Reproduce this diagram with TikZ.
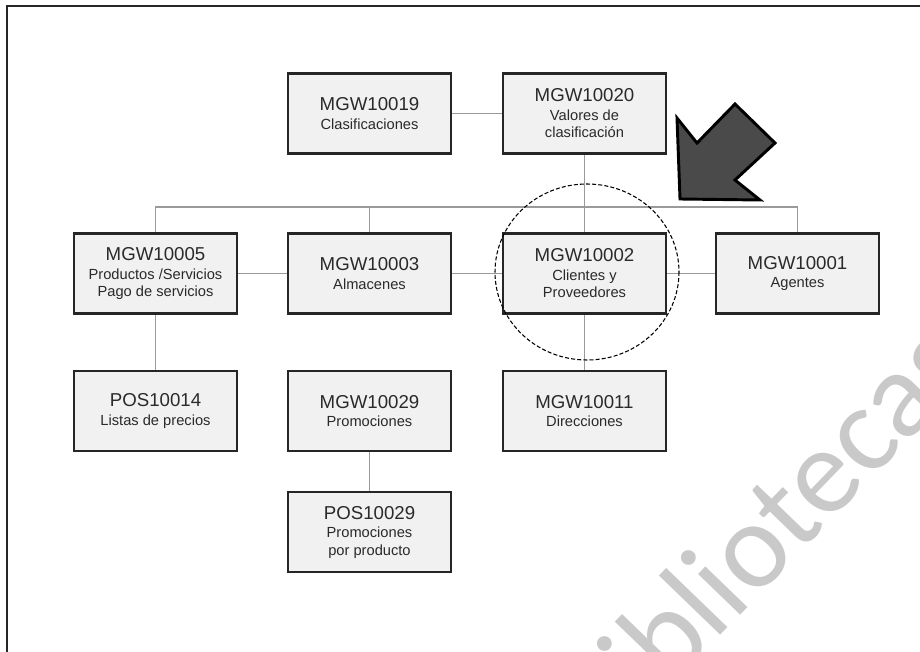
\documentclass[tikz,border=0pt]{standalone}
\usepackage{fontspec}
\setmainfont{Liberation Sans}
\newfontfamily\markfont{Carlito}
\begin{document}
\begin{tikzpicture}[x=0.75pt,y=-0.75pt,
  tbl/.style={draw=black!85, line width=1.2pt, fill=boxfill,
    minimum width=121.5pt, minimum height=59.25pt, inner sep=0pt,
    align=center, text=txt, font=\fontsize{11}{13}\selectfont},
  conn/.style={draw=linegray, line width=1.1pt}]
\definecolor{boxfill}{HTML}{F0F1F0}
\definecolor{txt}{HTML}{2A2A2A}
\definecolor{linegray}{HTML}{9A9A9A}
\definecolor{arrowfill}{HTML}{4A4A4A}
\definecolor{markgray}{HTML}{C9C9C9}
\newcommand{\tcode}[1]{{\fontsize{14}{16}\selectfont #1}}
\useasboundingbox (0,0) rectangle (920,652);
\fill[white] (0,0) rectangle (920,652);

% watermark
\node[text=markgray, rotate=46, font=\markfont\fontsize{92}{92}\selectfont,
  inner sep=0pt] (mark) at (762,532) {bibliotecas};

% outer frame (left and top edges)
\draw[black!85, line width=1.5pt] (7,652) -- (7,6) -- (920,6);

% tables
\node[tbl] (t19) at (369.5,113.5) {\tcode{MGW10019}\\[1pt]Clasificaciones};
\node[tbl] (t20) at (584.5,113.5) {\tcode{MGW10020}\\[1pt]Valores de\\clasificación};
\node[tbl] (t05) at (155.5,273.5) {\tcode{MGW10005}\\[1pt]Productos /Servicios\\Pago de servicios};
\node[tbl] (t03) at (369.5,273.5) {\tcode{MGW10003}\\[1pt]Almacenes};
\node[tbl] (t02) at (584.5,273.5) {\tcode{MGW10002}\\[1pt]Clientes y\\Proveedores};
\node[tbl] (t01) at (797.5,273.5) {\tcode{MGW10001}\\[1pt]Agentes};
\node[tbl] (p14) at (155.5,411) {\tcode{POS10014}\\[1pt]Listas de precios};
\node[tbl] (t29) at (369.5,411) {\tcode{MGW10029}\\[1pt]Promociones};
\node[tbl] (t11) at (584.5,411) {\tcode{MGW10011}\\[1pt]Direcciones};
\node[tbl] (p29) at (369.5,532) {\tcode{POS10029}\\[1pt]Promociones\\por producto};

% connectors
\coordinate (bus) at (0,207);
\draw[conn] (t19) -- (t20);
\draw[conn] (t20) -- (t02);
\draw[conn] (t05.north) -- (t05.north |- bus) -- (t01.north |- bus) -- (t01.north);
\draw[conn] (t03.north) -- (t03.north |- bus);
\draw[conn] (t05) -- (t03);
\draw[conn] (t03) -- (t02);
\draw[conn] (t02) -- (t01);
\draw[conn] (t05) -- (p14);
\draw[conn] (t29) -- (p29);
\draw[conn] (t02) -- (t11);

% redraw table borders over connector ends
\foreach \n in {t19,t20,t05,t03,t02,t01,p14,t29,t11,p29}
  \draw[black!85, line width=1.2pt] (\n.north west) rectangle (\n.south east);

% highlight around MGW10002
\draw[black, line width=0.8pt, dash pattern=on 3pt off 1.6pt]
  (587,272) ellipse [x radius=92, y radius=88];

% pointer arrow
\draw[fill=arrowfill, draw=black, line width=2.2pt, line join=miter]
  (677,118) -- (697,143) -- (735,104) -- (775,143) -- (735,180)
  -- (760,200) -- (680,199) -- cycle;
\end{tikzpicture}
\end{document}
